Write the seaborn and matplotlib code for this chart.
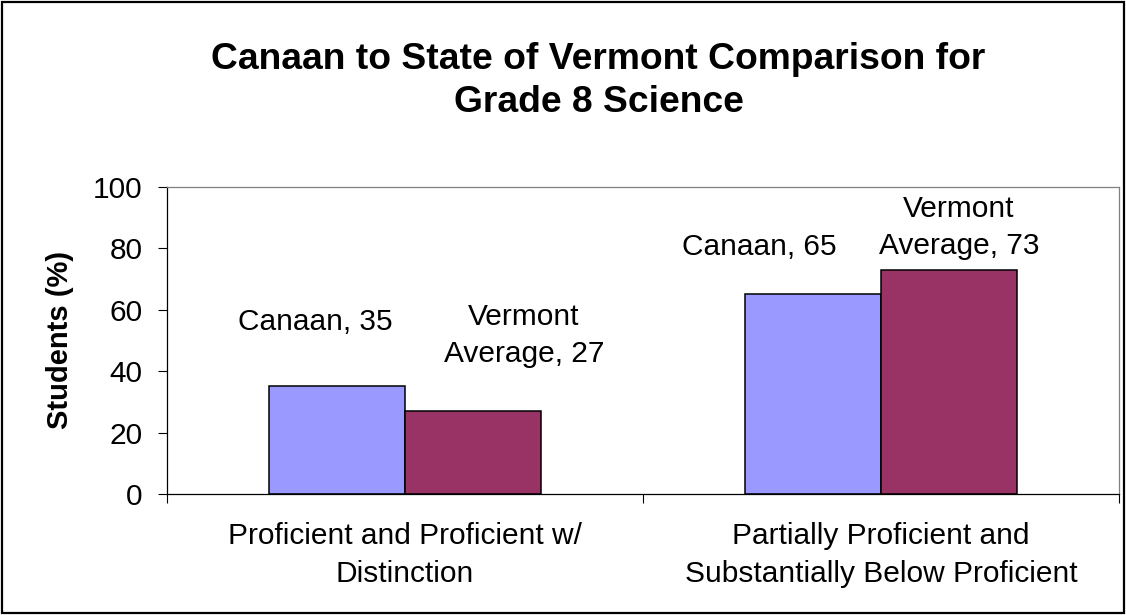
import matplotlib
matplotlib.use("Agg")
import matplotlib.pyplot as plt
import seaborn as sns
import pandas as pd
from matplotlib.patches import Rectangle

# ---- data ----
categories = ["Proficient and Proficient w/\nDistinction",
              "Partially Proficient and\nSubstantially Below Proficient"]
series_names = ["Canaan", "Vermont Average"]
canaan_values = [35, 65]
vermont_values = [27, 73]
colors = ["#9999FF", "#993366"]
yticks = [0, 20, 40, 60, 80, 100]

# label layout (data coordinates of label centres)
label_pos = {
    ("Canaan", 0): (-0.189, 56.0),
    ("Vermont Average", 0): (0.250, 51.5),
    ("Canaan", 1): (0.744, 80.4),
    ("Vermont Average", 1): (1.164, 86.8),
}

df = pd.DataFrame({
    "category": categories * 2,
    "series": [series_names[0]] * 2 + [series_names[1]] * 2,
    "value": canaan_values + vermont_values,
})

sns.set_theme(style="white")
plt.rcParams["font.family"] = ["Liberation Sans", "DejaVu Sans"]
plt.rcParams.update({"text.color": "black", "axes.labelcolor": "black",
                     "xtick.color": "black", "ytick.color": "black"})

fig = plt.figure(figsize=(11.26, 6.15), dpi=100)
ax = fig.add_axes([0.1483, 0.1967, 0.8455, 0.5])

sns.barplot(data=df, x="category", y="value", hue="series",
            palette=colors, width=0.57, gap=0, errorbar=None,
            edgecolor="black", linewidth=1.1, legend=False, ax=ax,
            saturation=1)

ax.set_xlim(-0.5, 1.5)
ax.set_ylim(0, 100)
ax.set_yticks(yticks)
ax.set_xlabel("")
ax.set_ylabel("Students (%)", fontsize=21, fontweight="bold", color="black")
ax.yaxis.set_label_coords(-0.098, 0.5)

fs = 21.5
ax.tick_params(axis="y", which="major", direction="out", length=6.5,
               width=0.8, color="black", labelcolor="black", labelsize=fs,
               pad=11, left=True)
ax.tick_params(axis="x", which="major", length=0, labelsize=fs, pad=20,
               labelcolor="black")
ax.set_xticks([-0.5, 0.5, 1.5], minor=True)
ax.tick_params(axis="x", which="minor", direction="out", length=6.5,
               width=0.8, color="black", bottom=True)
for lab in ax.get_xticklabels():
    lab.set_linespacing(1.48)

for s in ["left", "bottom"]:
    ax.spines[s].set_color("black")
    ax.spines[s].set_linewidth(0.9)
for s in ["top", "right"]:
    ax.spines[s].set_color("#808080")
    ax.spines[s].set_linewidth(0.9)
ax.set_facecolor("white")

# data labels
for i in range(len(categories)):
    for name, vals in zip(series_names, [canaan_values, vermont_values]):
        txt_name = name.replace(" ", "\n")
        x, y = label_pos[(name, i)]
        ax.text(x, y, f"{txt_name}, {vals[i]}", ha="center", va="center",
                fontsize=fs, linespacing=1.4, color="black")

fig.text(0.5316, 0.869, "Canaan to State of Vermont Comparison for\nGrade 8 Science",
         ha="center", va="center", fontsize=26.8, fontweight="bold",
         linespacing=1.3, color="black")

fig.patches.append(Rectangle((0.002, 0.003), 0.996, 0.994, transform=fig.transFigure,
                             fill=False, edgecolor="black", linewidth=1.6))

fig.savefig("out.png", dpi=100, facecolor="white")
